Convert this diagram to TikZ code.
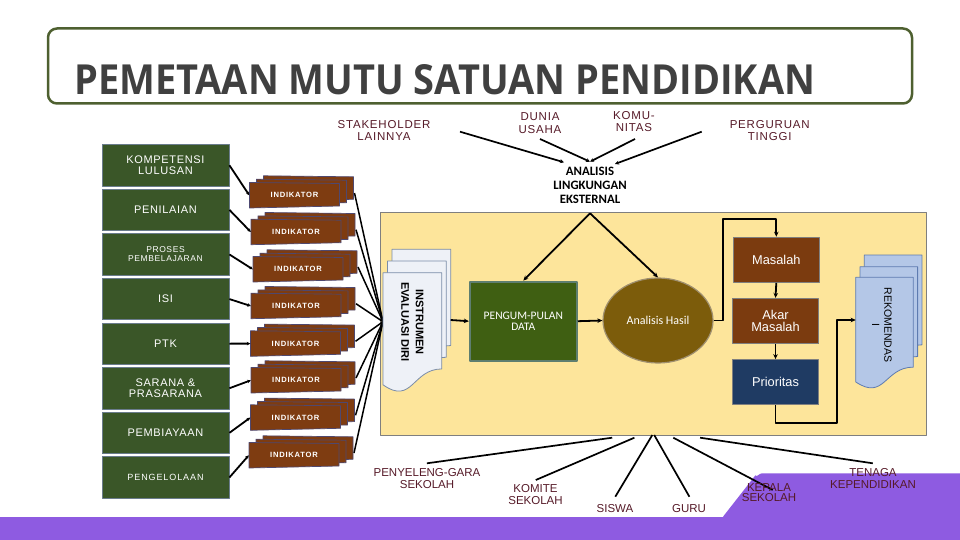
\documentclass[tikz,border=0pt]{standalone}
\usepackage{graphicx}
\usepackage{fontspec}
\setmainfont{Liberation Sans}
\newfontfamily\fArial{Liberation Sans}
\newfontfamily\fArialBox{Liberation Sans}[LetterSpace=6]
\newfontfamily\fArialSm{Liberation Sans}[LetterSpace=7]
\newfontfamily\fArialWide{Liberation Sans}[LetterSpace=10]
\newfontfamily\fInd{Liberation Sans}[LetterSpace=10]
\newfontfamily\fCal{Carlito}
\newfontfamily\fTitle{Open Sans}
\usetikzlibrary{arrows.meta,shapes.geometric,calc}

\definecolor{boxgreen}{HTML}{3A5628}
\definecolor{boxedge}{HTML}{6A7C8C}
\definecolor{indbrown}{HTML}{7E3C11}
\definecolor{indedge}{HTML}{4E4870}
\definecolor{pgreen}{HTML}{3F5F12}
\definecolor{pedge}{HTML}{5E7E70}
\definecolor{hasilfill}{HTML}{7C5C0B}
\definecolor{hasiledge}{HTML}{A09070}
\definecolor{masbrown}{HTML}{7B3B0F}
\definecolor{priofill}{HTML}{1F3B63}
\definecolor{grayedge}{HTML}{7F7F7F}
\definecolor{yellowbg}{HTML}{FDE59B}
\definecolor{purp}{HTML}{8E5BE1}
\definecolor{labelred}{HTML}{561A28}
\definecolor{titleedge}{HTML}{4E6030}
\definecolor{titletext}{HTML}{404040}
\definecolor{docfill}{HTML}{EEF1F7}
\definecolor{docedge}{HTML}{7A8CA8}
\definecolor{rekfill}{HTML}{B4C7E7}
\definecolor{rekedge}{HTML}{5E7BB0}

\newcommand\docpath[5]{%
  \filldraw[#5] (#1,#2) -- ({#1+#3},#2) -- ({#1+#3},{#2+0.802*#4})
    .. controls ({#1+0.5*#3},{#2+0.802*#4}) and ({#1+0.5*#3},{#2+1.107*#4}) ..
    (#1,{#2+0.934*#4}) -- cycle;}

\newcommand\indstack[3]{%
  \begin{scope}[shift={(#2,#3)}]
    \foreach \dx/\dy in {14/-6.7,7/-3.3,0/0}{
      \filldraw[indshape] ({-45+\dx},{-12.5+\dy}) -- ({45+\dx},{-11.5+\dy})
        -- ({45+\dx},{11+\dy}) -- ({-45+\dx},{13+\dy}) -- cycle;}
    \node[indtext] (#1) at (0,0.3) {INDIKATOR};
    \coordinate (#1r) at (60,-2);
  \end{scope}}

\begin{document}
\begin{tikzpicture}[x=1pt,y=-1pt,line join=round,
  gbox/.style={draw=boxedge,line width=0.8pt,fill=boxgreen,minimum width=127pt,
    minimum height=41.5pt,inner sep=0pt,text=white,align=center,
    font=\fArialBox\fontsize{11}{11.7}\selectfont},
  indshape/.style={draw=indedge,line width=0.7pt,fill=indbrown},
  indtext/.style={minimum width=90pt,minimum height=20pt,inner sep=0pt,text=white,
    font=\fInd\bfseries\fontsize{7.6}{8}\selectfont},
  conn/.style={line width=1.8pt,-{Stealth[length=5pt,width=4.5pt]}},
  lconn/.style={line width=1.8pt,-{Stealth[length=3.5pt,width=3.5pt]}},
  tconn/.style={line width=1.7pt,-{Stealth[length=4pt,width=4pt]}},
  cline/.style={line width=1.7pt},
  fline/.style={line width=1.5pt},
  toplab/.style={text=labelred,align=center,inner sep=0pt,
    font=\fArialSm\fontsize{11.5}{12.3}\selectfont},
  botlab/.style={text=labelred,align=center,inner sep=0pt,
    font=\fArial\fontsize{11.5}{11.6}\selectfont},
  rbox/.style={draw=grayedge,line width=1.2pt,minimum width=86pt,minimum height=45pt,
    inner sep=0pt,text=white,align=center,font=\fArial\fontsize{12.8}{11.7}\selectfont}
]
\useasboundingbox (0,0) rectangle (960,540);

% purple background
\fill[purp] (0,516.7) rectangle (960,540);
\fill[purp] (723,516.7) -- (755.4,475.3) to[out=-60,in=180] (762,473.3) -- (960,473.3) -- (960,540) -- cycle;

% title
\draw[titleedge,line width=2.5pt,rounded corners=9pt] (48,28.5) rectangle (912,103.5);
\node[anchor=base west,inner sep=0pt,text=titletext] (title) at (74,95)
  {\resizebox{741pt}{30pt}{\fTitle\bfseries\fontsize{40}{40}\selectfont PEMETAAN MUTU SATUAN PENDIDIKAN}};

% yellow area
\filldraw[fill=yellowbg,draw=grayedge,line width=0.8pt] (380,212) rectangle (926.7,435);

% left green boxes
\node[gbox] (k1) at (165.5,165.25) {KOMPETENSI\\LULUSAN};
\node[gbox] (k2) at (165.5,209.85) {PENILAIAN};
\node[gbox,font=\fArialSm\fontsize{8.5}{9}\selectfont] (k3) at (165.5,254.45) {PROSES\\PEMBELAJARAN};
\node[gbox] (k4) at (165.5,299.05) {ISI};
\node[gbox] (k5) at (165.5,343.65) {PTK};
\node[gbox] (k6) at (165.5,388.25) {SARANA \&\\PRASARANA};
\node[gbox] (k7) at (165.5,432.85) {PEMBIAYAAN};
\node[gbox,font=\fArialWide\fontsize{9}{10}\selectfont] (k8) at (165.5,477.45) {PENGELOLAAN};

% indicator stacks
\indstack{ind1}{294.5}{195}
\indstack{ind2}{296}{231.7}
\indstack{ind3}{298}{269}
\indstack{ind4}{296}{305.7}
\indstack{ind5}{295.5}{343.3}
\indstack{ind6}{296}{380}
\indstack{ind7}{295.5}{417.3}
\indstack{ind8}{294}{455}

\foreach \i in {1,...,8}{\draw[lconn] (k\i.east) -- (ind\i.west);}

% converging lines to instrument
\coordinate (instrL) at (383,321.7);
\foreach \i in {1,...,8}{\draw[fline] (ind\i r) -- (instrL);}

% instrument documents
\docpath{392}{249.3}{58.7}{120}{fill=docfill,draw=docedge,line width=0.8pt}
\docpath{387.5}{261}{58.7}{120}{fill=docfill,draw=docedge,line width=0.8pt}
\docpath{383}{272.7}{58.7}{120}{fill=docfill,draw=docedge,line width=0.8pt}
\node[rotate=-90,align=center,inner sep=0pt,font=\fArial\bfseries\fontsize{11}{14.5}\selectfont] (instr) at (412.5,322) {INSTRUMEN\\EVALUASI DIRI};
\coordinate (instrR) at (450.7,320);

% pengumpulan data
\node[draw=pedge,line width=2.2pt,fill=pgreen,minimum width=106.7pt,minimum height=79pt,inner sep=0pt,
  text=white,align=center,font=\fCal\fontsize{11.5}{11.7}\selectfont] (peng) at (523.3,321.2) {PENGUM-PULAN\\DATA};
\node[ellipse,draw=hasiledge,line width=1.2pt,fill=hasilfill,minimum width=110pt,minimum height=85pt,inner sep=0pt,
  text=white,font=\fCal\fontsize{12}{12}\selectfont] (hasil) at (658,320.5) {Analisis Hasil};

\draw[conn] (instrR) -- (peng.west);
\draw[conn] (peng.east) -- (hasil.west);

% analisis lingkungan eksternal
\node[inner sep=0pt,align=center,font=\fCal\bfseries\fontsize{12.8}{13.8}\selectfont] (ale) at (590,185.5) {ANALISIS\\LINGKUNGAN\\EKSTERNAL};
\coordinate (apex) at (590,213.3);
\draw[conn] (apex) -- (peng.north);
\draw[conn] (apex) -- (hasil.north);

% top labels
\node[toplab] (stk) at (384,130.3) {STAKEHOLDER\\LAINNYA};
\node[toplab] (dun) at (540,123) {DUNIA\\USAHA};
\node[toplab] (kom) at (634,121.7) {KOMU-\\NITAS};
\node[toplab] (per) at (769.7,130.5) {PERGURUAN\\TINGGI};
\coordinate (t1) at (460,131.7);
\coordinate (t2) at (540,139);
\coordinate (t3) at (635,139);
\coordinate (t4) at (701.7,131.7);
\coordinate (a1) at (564,162.3);
\coordinate (a2) at (590,161.7);
\coordinate (a3) at (615,164);
\draw[tconn] (t1) -- (a1);
\draw[tconn] (t2) -- (a2);
\draw[tconn] (t3) -- (a2);
\draw[tconn] (t4) -- (a3);

% right column
\node[rbox,fill=masbrown] (mas) at (776.3,259.8) {Masalah};
\node[rbox,fill=masbrown] (akar) at (775.5,321) {Akar\\Masalah};
\node[rbox,fill=priofill] (prio) at (775.5,382.2) {Prioritas};
\coordinate (c1) at (723.3,219.3);
\draw[conn] (hasil.east) -| (c1) -| (mas.north);
\draw[conn] (mas.south) -- (akar.north);
\draw[conn] (akar.south) -- (prio.north);

% rekomendasi documents
\docpath{864.3}{255}{57.6}{112}{fill=rekfill,draw=rekedge,line width=0.8pt}
\docpath{860}{266.7}{57.6}{112}{fill=rekfill,draw=rekedge,line width=0.8pt}
\docpath{855.7}{277.3}{57.6}{112}{fill=rekfill,draw=rekedge,line width=0.8pt}
\node[rotate=-90,align=center,inner sep=0pt,font=\fArial\fontsize{10.5}{12.3}\selectfont] (rek) at (882,325) {REKOMENDAS\\I};
\coordinate (c2) at (836.7,422.7);
\coordinate (rekL) at (855.7,320);
\draw[conn] (prio.south) |- (c2) |- (rekL);

% bottom stakeholders
\coordinate (y1) at (612.2,437.7);
\coordinate (y2) at (634.4,437.7);
\coordinate (y3) at (652.3,435);
\coordinate (y4) at (654.2,435);
\coordinate (y5) at (673.3,437.7);
\coordinate (y6) at (700.1,437.7);
\coordinate (e1) at (426.9,463.3);
\coordinate (e2) at (535.8,480);
\coordinate (e3) at (615.3,496.7);
\coordinate (e4) at (689.4,496.7);
\coordinate (e5) at (772.7,490);
\coordinate (e6) at (872.8,463.3);
\foreach \i in {1,...,6}{\draw[cline] (y\i) -- (e\i);}

\node[botlab] (bl1) at (427,478.5) {PENYELENG-GARA\\SEKOLAH};
\node[botlab] (bl2) at (535.5,494.5) {KOMITE\\SEKOLAH};
\node[botlab] (bl3) at (615,508.3) {SISWA};
\node[botlab] (bl4) at (689,508.3) {GURU};
\node[botlab,font=\fArial\fontsize{11.5}{10.3}\selectfont] (bl5) at (769,492.3) {KEPALA\\SEKOLAH};
\node[botlab] (bl6) at (873,478.3) {TENAGA\\KEPENDIDIKAN};
\end{tikzpicture}
\end{document}
